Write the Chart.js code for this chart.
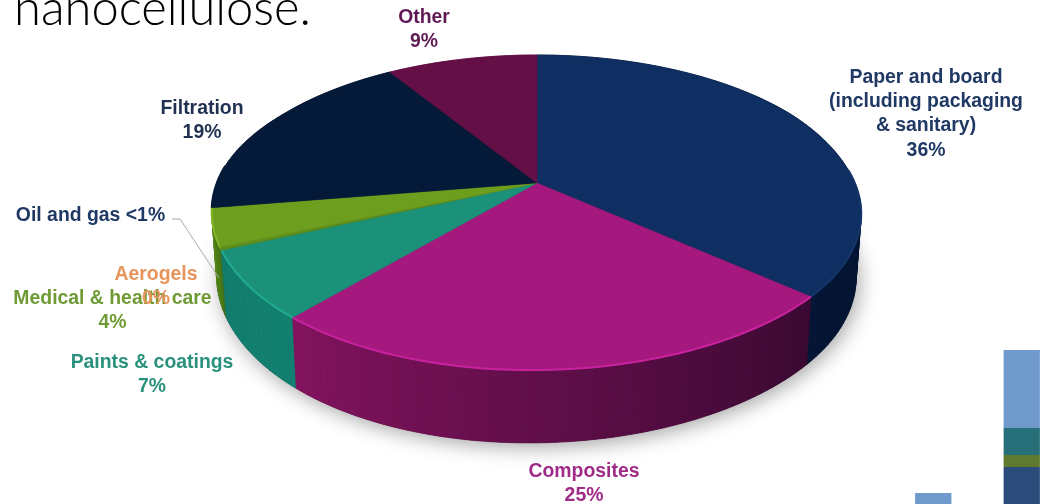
<!DOCTYPE html>
<html>
<head>
<meta charset="utf-8">
<style>
  html, body { margin: 0; padding: 0; background: #fff; overflow: hidden; width: 1053px; height: 504px; }
  #pie { position: absolute; left: 0; top: 0; filter: blur(0.4px); }
  #bars { position: absolute; left: 889px; top: 340px; filter: blur(0.4px); }
</style>
</head>
<body>
<canvas id="pie" width="1053" height="504"></canvas>
<canvas id="bars" width="177" height="164"></canvas>
<script src="https://cdn.jsdelivr.net/npm/chart.js@4"></script>
<script>
// pie data, clockwise from the top
const categories = ["Paper and board", "Composites", "Paints & coatings", "Oil and gas", "Aerogels", "Medical & health care", "Filtration", "Other"];
const shares = [36, 25, 7, 0.3, 0, 4, 19, 9];

// stacked bars cut off in the lower right corner
const barCategories = ["A", "B"];
const barBase = [0, 37];
const barOlive = [0, 12];
const barTeal = [0, 27];
const barTop = [11, 78];

// colours, same order as categories
const topColors = ["#0f2e61", "#a5197e", "#1b917a", "#5d8f1d", "#e8935a", "#6e9e1e", "#051a38", "#640f46"];
const rimColors = ["#143668", "#c922a0", "#20ab90", "#5d8f1d", "#e8935a", "#82b825", "#051a38", "#640f46"];
const wallStart = ["#041536", "#84135f", "#127d6d", "#3f6f20", "#e8935a", "#55851a", "#051a38", "#640f46"];
const wallEnd = ["#020d26", "#3a0932", "#128070", "#3f6f20", "#e8935a", "#4a7a16", "#051a38", "#640f46"];

// text blocks: [lines, centre x, first baseline y, colour]
const labels = [
  [["Other", "9%"], 424, 23, "#5f1a55"],
  [["Paper and board", "(including packaging", "& sanitary)", "36%"], 926, 83, "#1f3864"],
  [["Filtration", "19%"], 202, 114, "#1f3050"],
  [["Oil and gas <1%"], 90.5, 221, "#1f3864"],
  [["Medical & health care", "4%"], 112.5, 304, "#6f9b34"],
  [["Aerogels", "0%"], 156, 280, "#e8935a"],
  [["Paints & coatings", "7%"], 152, 368, "#2a917c"],
  [["Composites", "25%"], 584, 477, "#a02a87"],
];

// perspective of the disc: top face and bottom ring
const topFace = { cx: 537, cy: 183, a: 319, b: 152, skew: 6 };
const baseFace = { cx: 537, cy: 246, a: 314, b: 160, skew: 5 };
const tilt = 0.1873;
const frontShift = -16; // the photographed slide leans a bit to the left at the front

function project(face, angle) {
  const u = Math.cos(angle);
  const v = Math.sin(angle);
  const w = 1 - tilt * v;
  const front = Math.max(v, 0);
  const lean = Math.min(1, Math.max(0, v + 0.5));
  return [
    face.cx + face.a * u / w + frontShift * front * front,
    face.cy + face.b * v / w + face.skew * u * lean,
  ];
}

function mix(c1, c2, t) {
  const p = (c, i) => parseInt(c.substr(1 + i * 2, 2), 16);
  let out = [];
  for (let i = 0; i < 3; i++) out.push(Math.round(p(c1, i) + (p(c2, i) - p(c1, i)) * t));
  return "rgb(" + out.join(",") + ")";
}

function rimPath(ctx, face, a0, a1, move) {
  const n = Math.max(2, Math.ceil((a1 - a0) / 0.02));
  for (let i = 0; i <= n; i++) {
    const p = project(face, a0 + (a1 - a0) * i / n);
    if (i == 0 && move) ctx.moveTo(p[0], p[1]);
    else ctx.lineTo(p[0], p[1]);
  }
}

const perspectivePie = {
  id: "perspectivePie",
  beforeDatasetsDraw(chart) {
    const ctx = chart.ctx;
    const arcs = chart.getDatasetMeta(0).data;

    // soft shadow under the disc
    ctx.save();
    ctx.shadowColor = "rgba(0,0,0,0.36)";
    ctx.shadowBlur = 20;
    ctx.shadowOffsetY = 4;
    ctx.shadowOffsetX = 3;
    ctx.fillStyle = "#222";
    ctx.beginPath();
    rimPath(ctx, baseFace, 0, Math.PI * 2, true);
    ctx.closePath();
    ctx.fill();
    ctx.restore();

    // side wall, back to front
    const order = arcs.map((arc, idx) => idx);
    order.sort((a, b) => Math.sin((arcs[a].startAngle + arcs[a].endAngle) / 2) - Math.sin((arcs[b].startAngle + arcs[b].endAngle) / 2));
    order.forEach((idx) => {
      const a0 = arcs[idx].startAngle;
      const a1 = arcs[idx].endAngle;
      if (a1 - a0 < 0.0001) return;
      const n = Math.max(1, Math.ceil((a1 - a0) / 0.025));
      for (let i = 0; i < n; i++) {
        const s = a0 + (a1 - a0) * i / n;
        const e = a0 + (a1 - a0) * (i + 1) / n;
        const p1 = project(topFace, s);
        const p2 = project(topFace, e);
        const p3 = project(baseFace, e);
        const p4 = project(baseFace, s);
        // composites runs dark on the right, so shade by sweep from its far end
        const col = mix(wallEnd[idx], wallStart[idx], i / n);
        ctx.fillStyle = col;
        ctx.strokeStyle = col;
        ctx.lineWidth = 0.7;
        ctx.beginPath();
        ctx.moveTo(p1[0], p1[1]);
        ctx.lineTo(p2[0], p2[1]);
        ctx.lineTo(p3[0], p3[1]);
        ctx.lineTo(p4[0], p4[1]);
        ctx.closePath();
        ctx.fill();
        ctx.stroke();
      }
    });

    // top face
    arcs.forEach((arc, idx) => {
      if (arc.endAngle - arc.startAngle < 0.0001) return;
      ctx.fillStyle = topColors[idx];
      ctx.strokeStyle = topColors[idx];
      ctx.lineWidth = 0.5;
      ctx.beginPath();
      ctx.moveTo(topFace.cx, topFace.cy);
      rimPath(ctx, topFace, arc.startAngle, arc.endAngle, false);
      ctx.closePath();
      ctx.fill();
      ctx.stroke();
    });

    // light edge along the front of the top face
    arcs.forEach((arc, idx) => {
      const a0 = Math.max(arc.startAngle, -0.1);
      const a1 = Math.min(arc.endAngle, Math.PI + 0.1);
      if (a1 <= a0) return;
      ctx.strokeStyle = rimColors[idx];
      ctx.lineWidth = 2;
      ctx.beginPath();
      rimPath(ctx, topFace, a0, a1, true);
      ctx.stroke();
    });

    return false;
  },
  afterDraw(chart) {
    const ctx = chart.ctx;

    // leader line of the oil and gas label
    ctx.strokeStyle = "#a9a9a9";
    ctx.lineWidth = 1;
    ctx.beginPath();
    ctx.moveTo(172, 219);
    ctx.lineTo(180, 219);
    ctx.lineTo(219, 278);
    ctx.stroke();

    ctx.textAlign = "center";
    ctx.textBaseline = "alphabetic";
    ctx.font = "bold 19.4px 'Liberation Sans'";
    labels.forEach((l) => {
      ctx.fillStyle = l[3];
      l[0].forEach((line, i) => ctx.fillText(line, l[1], l[2] + i * 24.2));
    });

    // slide text above the chart, cut by the top edge
    ctx.textAlign = "left";
    ctx.fillStyle = "#000";
    ctx.font = "300 50px Lato";
    ctx.fillText("nanocellulose.", 14, 25, 297);
  },
};

new Chart(document.getElementById("pie"), {
  type: "pie",
  data: {
    labels: categories,
    datasets: [{ data: shares, backgroundColor: topColors, borderWidth: 0 }],
  },
  options: {
    responsive: false,
    animation: false,
    plugins: { legend: { display: false }, tooltip: { enabled: false } },
  },
  plugins: [perspectivePie],
});

new Chart(document.getElementById("bars"), {
  type: "bar",
  data: {
    labels: barCategories,
    datasets: [
      { data: barBase, backgroundColor: "#2b4c7a" },
      { data: barOlive, backgroundColor: "#5f7a30" },
      { data: barTeal, backgroundColor: "#27707a" },
      { data: barTop, backgroundColor: "#7099cc" },
    ],
  },
  options: {
    responsive: false,
    animation: false,
    layout: { padding: 0 },
    barPercentage: 0.41,
    categoryPercentage: 1,
    plugins: { legend: { display: false }, tooltip: { enabled: false } },
    scales: {
      x: { display: false, stacked: true },
      y: { display: false, stacked: true, min: 0, max: 164 },
    },
  },
});
</script>
</body>
</html>
